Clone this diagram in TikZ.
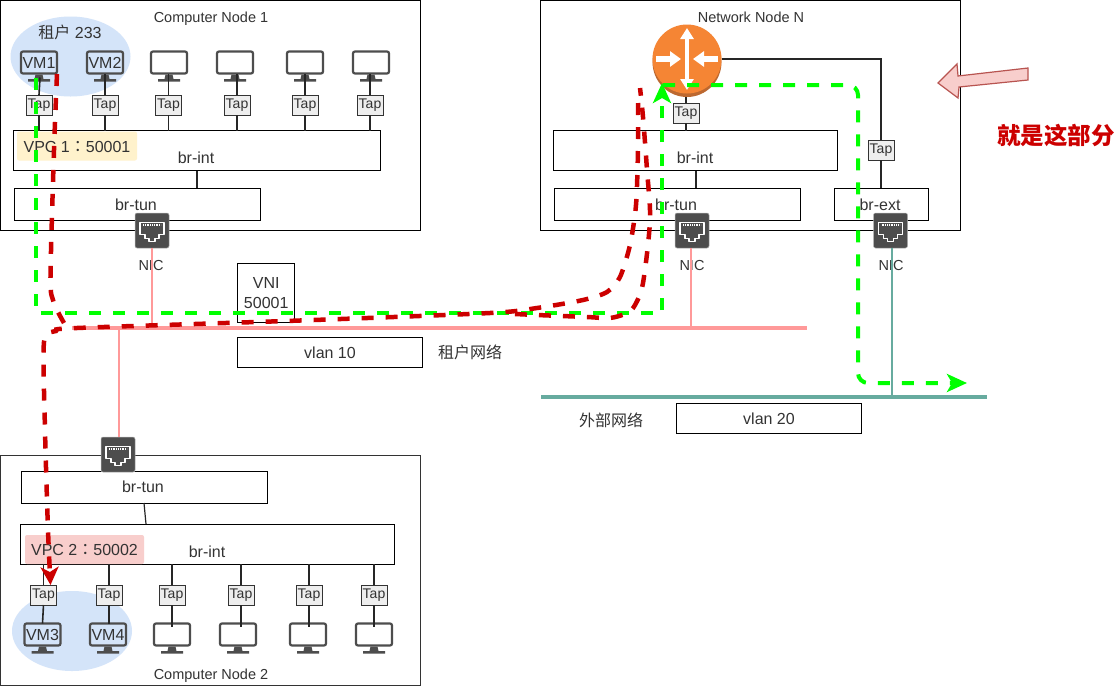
\documentclass[tikz,border=0pt]{standalone}
\usepackage{fontspec}
\setmainfont{Liberation Sans}
\newfontfamily\cjk{Noto Sans CJK SC}
\newfontfamily\cjktc{Noto Sans CJK TC}
\usetikzlibrary{arrows.meta,calc}
\definecolor{mongray}{HTML}{4D4D4D}
\definecolor{txt}{HTML}{333333}
\definecolor{blueell}{HTML}{D4E4F9}
\definecolor{pinkline}{HTML}{FF9999}
\definecolor{tealline}{HTML}{67AB9F}
\definecolor{reddash}{HTML}{CC0000}
\definecolor{greendash}{HTML}{00FF00}
\definecolor{routerc}{HTML}{F58534}
\definecolor{routers}{HTML}{BC6830}
\definecolor{calloutd}{HTML}{B85450}
\definecolor{calloutf}{HTML}{F8CECC}
\definecolor{vpcy}{HTML}{FFF2CC}
\definecolor{tapf}{HTML}{EEEEEE}
\tikzset{
 box/.style={draw=black,line width=1pt,fill=none,inner sep=0pt,outer sep=0pt,text=txt},
 lbl/.style={inner sep=0pt,outer sep=0pt,text=txt,font=\fontsize{16}{19}\selectfont,text height=14pt,text depth=2pt},
 smalllbl/.style={lbl,font=\fontsize{14.5}{17}\selectfont},
 tapbox/.style={draw=txt,line width=1pt,fill=tapf,minimum width=26pt,minimum height=20pt,inner sep=0pt,outer sep=0pt,text=txt,font=\fontsize{14}{16}\selectfont},
 monbox/.style={draw=mongray,line width=2.2pt,rounded corners=2pt,minimum width=36pt,minimum height=22pt,inner sep=0pt,outer sep=0pt,text=txt,font=\fontsize{16}{19}\selectfont},
 nicbox/.style={fill=mongray,draw=black!30,line width=.5pt,rounded corners=2pt,minimum width=34pt,minimum height=35pt,inner sep=0pt,outer sep=0pt},
 wire/.style={draw=black!85,line width=1.6pt},
 pinkwire/.style={draw=pinkline,line width=1.6pt},
 tealwire/.style={draw=tealline,line width=1.6pt},
 vpcbox/.style={rounded corners=2pt,inner sep=0pt,outer sep=0pt,text=txt,font=\fontsize{16}{19}\selectfont,minimum width=120pt,minimum height=29pt},
 gdash/.style={draw=greendash,line width=4pt,dash pattern=on 12pt off 12pt},
 rdash/.style={draw=reddash,line width=4.5pt,dash pattern=on 12pt off 12pt},
}
\newcommand{\monitorat}[4]{%
 \node[monbox] (#1) at (#2,#3) {#4};
 \fill[mongray,shift={(#1.south)}] (-3.5,1)--(3.5,1)--(4.5,5.5)--(11,5.5)--(11,8)--(-11,8)--(-11,5.5)--(-4.5,5.5)--cycle;
}
\newcommand{\nicat}[3]{%
 \node[nicbox] (#1) at (#2,#3) {};
 \begin{scope}[shift={(#1.center)}]
  \draw[white,line width=1.6pt,line join=round] (-12,-8)--(12,-8)--(12,4)--(7,4)--(7,8)--(3,8)--(3,11)--(-3,11)--(-3,8)--(-7,8)--(-7,4)--(-12,4)--cycle;
  \draw[white,line width=2pt,dash pattern=on .8pt off 1pt] (-9,-5.5)--(9,-5.5);
 \end{scope}
}
\begin{document}
\begin{tikzpicture}[x=1pt,y=-1pt]
\useasboundingbox (0,0) rectangle (1118,686);
\fill[white] (0,0) rectangle (1118,686);

% Node frames
\node[box,minimum width=420pt,minimum height=230pt] (cn1) at (210.5,115.5) {};
\node[box,minimum width=420pt,minimum height=230pt] (nn) at (750.5,115.5) {};
\node[box,draw=txt,minimum width=420pt,minimum height=230pt] (cn2) at (210.5,570.5) {};
\node[smalllbl] (cn1t) at (211,16) {Computer Node 1};
\node[smalllbl] (nnt) at (751,16) {Network Node N};
\node[smalllbl] (cn2t) at (211,673) {Computer Node 2};

% Tenant ellipses
\fill[blueell] (70.5,56.5) ellipse [x radius=60,y radius=40];
\fill[blueell] (72,631) ellipse [x radius=60,y radius=40];
\node[lbl] (tenant) at (70,32) {{\cjk 租户} 233};

% Networks
\draw[pinkline,line width=4pt] (72,328) coordinate (p0) -- (807,328) coordinate (p1);
\draw[tealline,line width=4pt] (541,397) coordinate (q0) -- (987,397) coordinate (q1);

% Bridges compute node 1
\node[box,minimum width=367pt,minimum height=40pt] (bi1) at (197,150.5) {};
\node[box,minimum width=246pt,minimum height=32pt] (bt1) at (137,204) {};
\node[vpcbox,fill=vpcy,text height=14pt,text depth=2pt] (vpc1) at (77,146) {VPC 1{\cjktc ：}50001};
\node[lbl] (bi1l) at (196,157) {br-int};
\node[lbl] (bt1l) at (136,204) {br-tun};
\draw[wire] (bi1.south -| 197,0) -- (bt1.north -| 197,0);

% Monitors and taps, node 1
\monitorat{m1}{39}{62.5}{VM1}
\monitorat{m2}{105}{62.5}{VM2}
\monitorat{m3}{169}{62.5}{}
\monitorat{m4}{235}{62.5}{}
\monitorat{m5}{305}{62.5}{}
\monitorat{m6}{371}{62.5}{}
\foreach \n/\x in {1/39,2/105,3/168.5,4/237,5/305,6/370}{
 \node[tapbox] (t\n) at (\x,105) {Tap};
}
\draw[wire] ($(m1.south)+(1,4)$) -- (t1.north);
\foreach \n in {2,3,4,5,6}{ \draw[wire] (t\n.north) -- (t\n.north |- m\n.south); }
\foreach \n in {1,2,3,4,5,6}{ \draw[wire] (t\n.south) -- (t\n.south |- bi1.north); }

% Network node
\node[box,minimum width=284pt,minimum height=40pt] (bi2) at (695.5,150.5) {};
\node[box,minimum width=246pt,minimum height=32pt] (bt2) at (677.5,204) {};
\node[box,minimum width=94pt,minimum height=32pt] (be2) at (881,204) {};
\node[lbl] (bi2l) at (695,157) {br-int};
\node[lbl] (bt2l) at (676,204) {br-tun};
\node[lbl] (be2l) at (880,204) {br-ext};
\draw[wire] (bi2.south -| 696,0) -- (bt2.north -| 696,0);
\node[circle,minimum size=69pt,inner sep=0pt,outer sep=0pt] (router) at (687,59) {};
\node[tapbox] (tr) at (686,113) {Tap};
\node[tapbox] (te) at (881,150) {Tap};
\draw[wire] ($(tr.north |- router.south)+(0,3)$) -- (tr.north);
\draw[wire] (tr.south) -- (tr.south |- bi2.north);
\draw[wire] (router.east) -- (router.east -| te.north) -- (te.north);
\draw[wire] (te.south) -- (te.south |- be2.north);
\fill[routers] ($(router.center)+(0,3)$) ellipse [x radius=34.5,y radius=35];
\fill[routerc] (router.center) circle [radius=34.5];
\draw[white,line width=3.5pt,{Triangle[length=11pt,width=13pt]}-{Triangle[length=11pt,width=13pt]}] (687,28) coordinate (ra) -- (687,90) coordinate (rb);
\draw[white,line width=5.5pt,-{Triangle[length=11pt,width=15pt]}] (656,59) coordinate (rc) -- (681,59) coordinate (rd);
\draw[white,line width=5.5pt,-{Triangle[length=11pt,width=15pt]}] (718,59) coordinate (re) -- (693,59) coordinate (rf);

% Compute node 2
\node[box,minimum width=246pt,minimum height=32pt] (bt3) at (144.5,487) {};
\node[box,minimum width=374pt,minimum height=40pt] (bi3) at (207.5,544) {};
\node[vpcbox,fill=calloutf,minimum width=119pt,text height=14pt,text depth=2pt] (vpc2) at (84.5,549.5) {VPC 2{\cjktc ：}50002};
\node[lbl] (bt3l) at (143,486) {br-tun};
\node[lbl] (bi3l) at (207,551) {br-int};
\draw[wire,line width=1.2pt] (144,503) coordinate (lk0) -- (146,524) coordinate (lk1);
\monitorat{m7}{42.5}{634.5}{VM3}
\monitorat{m8}{108}{634.5}{VM4}
\monitorat{m9}{172}{634.5}{}
\monitorat{m10}{238}{634.5}{}
\monitorat{m11}{308}{634.5}{}
\monitorat{m12}{374}{634.5}{}
\foreach \n/\x in {7/43.5,8/109,9/172,10/241,11/309,12/374}{
 \node[tapbox] (t\n) at (\x,595) {Tap};
 \draw[wire] (t\n.north) -- (t\n.north |- bi3.south);
}
\draw[wire] (t7.south) -- (m7.north);
\draw[wire] (t8.south) -- (t8.south |- m8.north);
\foreach \n in {9,10,11,12}{ \draw[wire] (t\n.south) -- ($(t\n.south |- m\n.north)+(0,3)$); }

% NICs
\nicat{nic1}{152}{230.5}
\nicat{nic2}{692}{230.5}
\nicat{nic3}{890.5}{230.5}
\nicat{nic4}{118}{454.5}
\node[smalllbl] (nic1l) at (151,264) {NIC};
\node[smalllbl] (nic2l) at (692,264) {NIC};
\node[smalllbl] (nic3l) at (891,264) {NIC};
\draw[pinkwire] (nic1.south) -- (nic1.south |- p0);
\draw[pinkwire] (nic2.south -| 691,0) -- (691,328);
\draw[tealwire] (nic3.south -| 892,0) -- (892,397);
\draw[pinkwire] (nic4.north -| 119,0) -- (119,328);

% Label boxes
\node[box,align=center,minimum width=57.5pt,minimum height=59.5pt,font=\fontsize{16}{20}\selectfont] (vni) at (266.2,293.2) {VNI\\50001};
\node[box,minimum width=185.5pt,minimum height=30pt] (vl10) at (330.2,352) {};
\node[lbl] (vl10t) at (330,352) {vlan 10};
\node[box,minimum width=185.5pt,minimum height=30pt] (vl20) at (769.2,418.5) {};
\node[lbl] (vl20t) at (769,418) {vlan 20};
\node[lbl] (ten) at (470,352) {\cjk 租户网络};
\node[lbl] (ext) at (611,420) {\cjk 外部网络};

% Green route
\coordinate (g0) at (36,78);
\coordinate (g1) at (36,313);
\coordinate (g2) at (662,313);
\coordinate (g3) at (662,83);
\coordinate (g4) at (663,85);
\coordinate (g5) at (858,85);
\coordinate (g6) at (858,383);
\coordinate (g7) at (967,383);
\draw[gdash,-{Stealth[length=20pt,width=18pt,inset=5pt]}] (g0) -- (g1) -- (g2) -- (g3);
\draw[gdash,rounded corners=10pt,-{Stealth[length=20pt,width=18pt,inset=5pt]}] (g4) -- (g5) -- (g6) -- (g7);

% Red routes
\draw[rdash] plot[smooth,tension=.5] coordinates {(57,74) (54,150) (50.5,277) (53,300) (58,312) (64,323)};
\draw[rdash] plot[smooth,tension=.5] coordinates {(515,314) (537,315) (587,317) (610,318) (627,313) (635,305) (643,283) (650,220) (647,170) (643,117) (640,88)};
\draw[rdash,-{Stealth[length=18pt,width=18pt,inset=5pt]}] plot[smooth,tension=.45] coordinates {(638,103) (638,150) (636,205) (630,245) (620,277) (607,292) (583,300) (537,308) (490,313) (300,320.5) (77,328) (56,331) (44,342) (45,430) (48,530) (50.5,585)};

% Callout
\draw[draw=calloutd,fill=calloutf,line width=1.2pt,line join=miter] (938,83) -- (957,64) -- (958,76) -- (1028,68) -- (1028,80) -- (959,87) -- (958,98) -- cycle;
\node[inner sep=0pt,outer sep=0pt,text=reddash,font=\fontsize{23.5}{28}\selectfont\cjk\bfseries] (note) at (1056,135) {就是这部分};
\end{tikzpicture}
\end{document}
